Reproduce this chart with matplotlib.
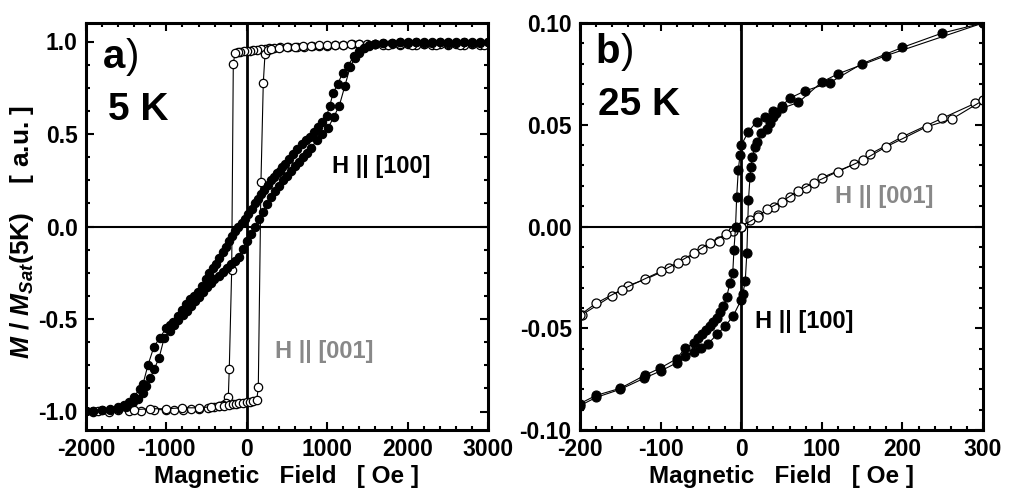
import matplotlib
matplotlib.use("Agg")
import matplotlib.pyplot as plt
from matplotlib.ticker import MultipleLocator, FormatStrFormatter

plt.rcParams['font.family'] = ['Liberation Sans', 'DejaVu Sans']
plt.rcParams['font.weight'] = 'bold'
plt.rcParams['axes.unicode_minus'] = False
plt.rcParams['mathtext.fontset'] = 'custom'
plt.rcParams['mathtext.it'] = 'Liberation Sans:bold:italic'
plt.rcParams['mathtext.rm'] = 'Liberation Sans:bold'

# ---- panel a) 5 K, H || [100] (filled), descending branch
a100_dn_x = [3000, 2900, 2800, 2700, 2600, 2500, 2400, 2300, 2200, 2100, 2000, 1900, 1800, 1700,
             1600, 1520, 1460, 1400, 1330, 1260, 1193, 1130, 1073, 1030, 994, 940, 890, 840, 786,
             735, 683, 630, 578, 525, 475, 440, 411, 375, 340, 300, 260, 220, 180, 140, 100, 60,
             20, -20, -60, -110, -145, -180, -220, -259, -300, -342, -385, -424, -465, -508, -560,
             -611, -660, -707, -760, -806, -860, -915, -960, -1004, -1080, -1155, -1230, -1290,
             -1334, -1400, -1460, -1530, -1605, -1700, -1800, -1917, -2000]
a100_dn_y = [0.995, 0.99, 1.0, 0.995, 0.99, 1.0, 0.995, 0.99, 1.0, 0.995, 0.99, 0.995, 0.99, 0.99,
             0.985, 0.975, 0.965, 0.95, 0.92, 0.87, 0.83, 0.77, 0.72, 0.65, 0.60, 0.565, 0.537, 0.51,
             0.483, 0.465, 0.447, 0.42, 0.393, 0.366, 0.339, 0.32, 0.30, 0.29, 0.27, 0.25, 0.225,
             0.20, 0.175, 0.15, 0.125, 0.095, 0.065, 0.04, 0.02, 0.0, -0.025, -0.05, -0.08, -0.11,
             -0.14, -0.17, -0.20, -0.225, -0.25, -0.283, -0.32, -0.355, -0.375, -0.39, -0.42,
             -0.454, -0.485, -0.517, -0.535, -0.55, -0.60, -0.65, -0.75, -0.85, -0.877, -0.92,
             -0.95, -0.965, -0.977, -0.985, -0.99, -0.995, -0.995]
# ascending branch
a100_up_x = [-2000, -1917, -1800, -1700, -1600, -1500, -1414, -1350, -1290, -1250, -1203, -1150,
             -1091, -1026, -960, -902, -850, -797, -750, -700, -650, -599, -550, -500, -450, -405,
             -350, -300, -250, -197, -150, -101, -50, 0, 50, 100, 150, 200, 250, 306, 350, 400,
             450, 500, 550, 600, 650, 700, 750, 800, 877, 940, 1007, 1080, 1151, 1220, 1284, 1340,
             1400, 1460, 1520, 1600, 1700, 1800, 1900, 2000, 2100, 2200, 2300, 2400, 2500, 2600,
             2700, 2800, 2900, 3000]
a100_up_y = [-0.995, -0.995, -0.99, -0.99, -0.985, -0.975, -0.95, -0.93, -0.90, -0.86, -0.82,
             -0.77, -0.71, -0.60, -0.565, -0.535, -0.507, -0.48, -0.455, -0.43, -0.405, -0.382,
             -0.355, -0.328, -0.305, -0.283, -0.265, -0.247, -0.225, -0.20, -0.185, -0.166, -0.12,
             -0.08, -0.04, 0.0, 0.04, 0.08, 0.12, 0.16, 0.19, 0.22, 0.25, 0.275, 0.30, 0.325,
             0.35, 0.375, 0.40, 0.425, 0.47, 0.50, 0.53, 0.59, 0.654, 0.76, 0.86, 0.91, 0.94,
             0.965, 0.98, 0.985, 0.99, 0.99, 0.995, 1.0, 0.995, 0.99, 1.0, 0.995, 0.99, 1.0,
             0.995, 0.99, 1.0, 0.995]

# panel a) H || [001] (open)
a001_dn_x = [3000, 2900, 2800, 2700, 2600, 2500, 2400, 2300, 2200, 2100, 2000, 1900, 1800, 1700,
             1600, 1500, 1400, 1306, 1195, 1095, 995, 898, 810, 713, 625, 515, 415, 340, 280, 230,
             180, 130, 80, 40, 0, -40, -80, -110, -146, -168, -188, -218, -230, -260, -300, -346,
             -408, -483, -595, -695, -794, -906, -1006, -1155, -1316, -1465, -1714, -1917]
a001_dn_y = [0.985, 0.98, 0.985, 0.98, 0.985, 0.98, 0.985, 0.98, 0.985, 0.98, 0.985, 0.98, 0.985,
             0.98, 0.985, 0.98, 0.985, 0.985, 0.98, 0.98, 0.975, 0.975, 0.975, 0.97, 0.97, 0.97,
             0.97, 0.965, 0.965, 0.96, 0.96, 0.955, 0.955, 0.95, 0.95, 0.95, 0.945, 0.945, 0.94,
             0.88, -0.234, -0.77, -0.92, -0.955, -0.965, -0.97, -0.975, -0.98, -0.985, -0.985,
             -0.99, -0.99, -0.99, -0.99, -0.995, -0.995, -1.0, -1.0]
a001_up_x = [-2000, -1850, -1600, -1400, -1200, -1000, -800, -600, -450, -350, -280, -220, -171,
             -134, -97, -47, 0, 40, 80, 123, 143, 176, 205, 226, 260, 300, 400, 500, 600, 700,
             800, 900, 1000, 1100, 1200, 1300, 1400, 1500, 1600, 1750, 1900, 2050, 2200, 2350,
             2500, 2650, 2800, 2950]
a001_up_y = [-0.995, -0.995, -0.99, -0.99, -0.985, -0.985, -0.98, -0.98, -0.975, -0.97, -0.97,
             -0.965, -0.96, -0.96, -0.955, -0.955, -0.95, -0.95, -0.945, -0.94, -0.87, 0.24,
             0.775, 0.93, 0.955, 0.96, 0.965, 0.97, 0.97, 0.975, 0.975, 0.98, 0.98, 0.98, 0.98,
             0.985, 0.985, 0.985, 0.985, 0.98, 0.985, 0.98, 0.985, 0.98, 0.985, 0.98, 0.985, 0.98]

# ---- panel b) 25 K, H || [100] (filled)
b100_dn_x = [300, 249, 200, 150, 110, 79, 60, 50, 40, 30, 19, 9, 0, -1.5, -3.6, -5.6, -7, -9,
             -10.5, -14, -18, -22, -26, -30, -35, -39, -44, -49, -54, -59, -70, -80, -101, -119,
             -150, -180, -200]
b100_dn_y = [0.1, 0.095, 0.088, 0.080, 0.0707, 0.0666, 0.063, 0.059, 0.057, 0.054, 0.0515,
             0.0466, 0.04, 0.035, 0.0278, 0.0146, 0.0, -0.0115, -0.023, -0.0279, -0.0345, -0.039,
             -0.042, -0.045, -0.047, -0.049, -0.051, -0.053, -0.055, -0.0574, -0.0599, -0.065,
             -0.0697, -0.073, -0.0795, -0.083, -0.087]
b100_up_x = [-200, -180, -150, -120, -100, -80, -70, -59, -50, -41, -30, -20, -10, 0, 2, 5, 7,
             9, 11, 12, 14, 17, 20, 25, 32, 36, 39, 43, 50, 71, 100, 120, 180, 300]
b100_up_y = [-0.088, -0.084, -0.08, -0.0745, -0.071, -0.067, -0.0635, -0.0615, -0.0595,
             -0.0576, -0.053, -0.049, -0.044, -0.036, -0.033, -0.027, -0.013, 0.013, 0.0245,
             0.029, 0.034, 0.039, 0.0417, 0.0458, 0.048, 0.0507, 0.054, 0.056, 0.058, 0.061,
             0.071, 0.075, 0.084, 0.1]

# panel b) H || [001] (open)
b001_up_x = [-198, -160, -140, -119, -89, -70, -49, -28, -10, 0, 11, 21, 41, 60.5, 80, 100, 140,
             160, 200, 249.5, 290]
b001_up_y = [-0.0435, -0.034, -0.029, -0.026, -0.0206, -0.0165, -0.011, -0.007, -0.002, 0.0,
             0.003, 0.0057, 0.0097, 0.0143, 0.0187, 0.024, 0.0306, 0.0356, 0.0441, 0.0532, 0.0605]
b001_dn_x = [300, 261, 230, 180, 151.5, 120, 90, 71, 50, 32, 21, 0, -19, -39, -59, -79, -99.5,
             -148, -180, -200]
b001_dn_y = [0.062, 0.0527, 0.049, 0.0392, 0.0327, 0.027, 0.0215, 0.0176, 0.0122, 0.0085,
             0.0048, 0.0, -0.0038, -0.008, -0.0132, -0.0178, -0.022, -0.031, -0.0377, -0.0435]

fig = plt.figure(figsize=(10.1, 4.95), dpi=100)
ax1 = fig.add_axes([86/1010, 65/495, 402/1010, 407/495])
ax2 = fig.add_axes([580/1010, 65/495, 403/1010, 407/495])

filled = dict(color='black', lw=0.8, marker='o', mfc='black', mec='black', mew=0.8)
opened = dict(color='black', lw=0.8, marker='o', mfc='white', mec='black', mew=0.9)

for ax in (ax1, ax2):
    ax.axhline(0, color='black', lw=1.5, zorder=1)
    ax.axvline(0, color='black', lw=2.0, zorder=1)

ax1.plot(a001_dn_x, a001_dn_y, ms=6, **opened)
ax1.plot(a001_up_x, a001_up_y, ms=6, **opened)
ax1.plot(a100_dn_x, a100_dn_y, ms=6, **filled)
ax1.plot(a100_up_x, a100_up_y, ms=6, **filled)

ax2.plot(b001_up_x, b001_up_y, ms=6.5, **opened)
ax2.plot(b001_dn_x, b001_dn_y, ms=6.5, **opened)
ax2.plot(b100_dn_x, b100_dn_y, ms=6.5, **filled)
ax2.plot(b100_up_x, b100_up_y, ms=6.5, **filled)

ax1.set_xlim(-2000, 3000)
ax1.set_ylim(-1.1, 1.1)
ax1.xaxis.set_major_locator(MultipleLocator(1000))
ax1.xaxis.set_minor_locator(MultipleLocator(200))
ax1.yaxis.set_major_locator(MultipleLocator(0.5))
ax1.yaxis.set_minor_locator(MultipleLocator(0.125))
ax1.yaxis.set_major_formatter(FormatStrFormatter('%.1f'))

ax2.set_xlim(-200, 300)
ax2.set_ylim(-0.1, 0.1)
ax2.xaxis.set_major_locator(MultipleLocator(100))
ax2.xaxis.set_minor_locator(MultipleLocator(20))
ax2.yaxis.set_major_locator(MultipleLocator(0.05))
ax2.yaxis.set_minor_locator(MultipleLocator(0.01))
ax2.yaxis.set_major_formatter(FormatStrFormatter('%.2f'))

for ax in (ax1, ax2):
    for s in ax.spines.values():
        s.set_linewidth(2.2)
    ax.tick_params(which='both', direction='in', top=True, right=True, width=1.5)
    ax.tick_params(which='major', length=6, labelsize=16.5, pad=6)
    ax.tick_params(which='minor', length=3)
    for lab in ax.get_xticklabels() + ax.get_yticklabels():
        lab.set_fontweight('bold')
    ax.set_xlabel('Magnetic   Field   [ Oe ]', fontsize=17.5, fontweight='bold', labelpad=3)

fig.text(22/1010, 1 - 232/495, r'$M$ / $M_{Sat}$(5K)    [ a.u. ]', rotation=90,
         ha='center', va='center', fontsize=19, fontweight='bold')

# panel annotations
ax1.text(0.042, 0.889, 'a', transform=ax1.transAxes, fontsize=29, fontweight='bold')
ax1.text(0.100, 0.889, ')', transform=ax1.transAxes, fontsize=29, fontweight='normal')
ax1.text(0.055, 0.762, '5 K', transform=ax1.transAxes, fontsize=28, fontweight='bold')
ax1.text(0.612, 0.631, 'H || [100]', transform=ax1.transAxes, fontsize=17, fontweight='bold')
ax1.text(0.470, 0.177, 'H || [001]', transform=ax1.transAxes, fontsize=17, fontweight='bold',
         color='#888888')

ax2.text(0.037, 0.902, 'b', transform=ax2.transAxes, fontsize=29, fontweight='bold')
ax2.text(0.100, 0.902, ')', transform=ax2.transAxes, fontsize=29, fontweight='normal')
ax2.text(0.045, 0.774, '25 K', transform=ax2.transAxes, fontsize=28, fontweight='bold')
ax2.text(0.633, 0.558, 'H || [001]', transform=ax2.transAxes, fontsize=17, fontweight='bold',
         color='#888888')
ax2.text(0.434, 0.251, 'H || [100]', transform=ax2.transAxes, fontsize=17, fontweight='bold')

fig.savefig('out.png', dpi=100)
